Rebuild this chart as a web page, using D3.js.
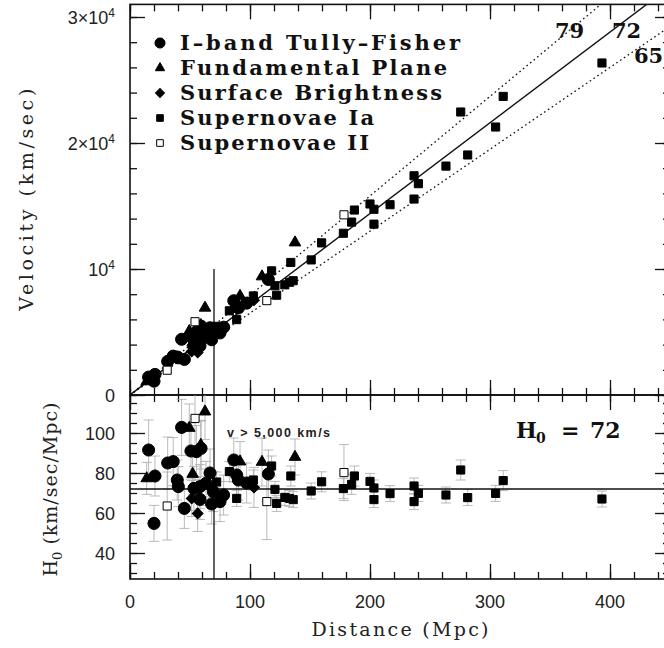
<!DOCTYPE html>
<html>
<head>
<meta charset="utf-8">
<script src="https://cdn.jsdelivr.net/npm/d3@7"></script>
<style>
  body { margin: 0; background: #fff; }
</style>
</head>
<body>
<div id="chart"></div>
<script>
// [distance (Mpc), H0 (km/s/Mpc), H0 error]
const tullyFisher = [
  [15.5, 91.5, 15], [20.8, 78.5, 10], [20.0, 54.8, 9], [31.4, 85.0, 13],
  [36.0, 85.7, 12], [39.4, 76.5, 10], [40.3, 73.2, 10], [43.0, 102.8, 14],
  [45.3, 62.3, 10], [50.8, 91.0, 14], [55.4, 90.7, 13], [59.2, 92.3, 14],
  [53.3, 72.3, 11], [58.3, 73.2, 11], [63.3, 74.8, 11], [66.7, 80.0, 12],
  [58.3, 66.8, 10], [69.4, 70.7, 10], [68.0, 64.5, 10], [75.0, 65.7, 10],
  [78.0, 69.0, 10], [86.5, 86.5, 11], [88.9, 79.0, 10], [90.3, 76.5, 10],
  [97.2, 75.0, 10], [115.3, 79.5, 12]
];
const fundamentalPlane = [
  [13.9, 77.3, 8], [49.4, 102.5, 12], [62.5, 110.7, 14], [52.2, 79.5, 10],
  [59.0, 94.0, 12], [91.7, 85.7, 10], [110.0, 85.5, 12], [137.5, 88.0, 9]
];
const surfaceBrightness = [
  [51.4, 67.3, 9], [56.4, 59.8, 9], [103.3, 72.8, 10]
];
const supernovaeIa = [
  [72.2, 75.5, 5], [82.8, 80.7, 5], [88.9, 67.3, 4], [102.8, 76.5, 5],
  [118.0, 83.5, 5], [120.8, 71.8, 4], [122.2, 64.8, 4], [129.0, 67.8, 4],
  [133.0, 67.3, 4], [136.0, 66.7, 4], [134.0, 78.5, 5], [151.0, 71.0, 4],
  [159.7, 75.6, 5], [177.8, 72.2, 5], [184.7, 74.3, 5], [187.0, 78.5, 5],
  [200.0, 75.8, 4], [203.3, 72.5, 4], [203.3, 66.7, 4], [216.7, 69.7, 4],
  [236.7, 73.5, 4], [240.3, 69.8, 4], [236.7, 65.7, 4], [263.3, 69.0, 4],
  [275.6, 81.5, 5], [281.4, 67.7, 4], [304.7, 69.8, 4], [311.0, 76.2, 5],
  [393.3, 67.0, 4]
];
const supernovaeII = [
  [31.0, 63.5, 17], [54.2, 107.3, 15], [114.0, 65.7, 19], [178.3, 80.2, 14]
];

const legendLabels = ["I–band Tully–Fisher", "Fundamental Plane", "Surface Brightness",
                      "Supernovae Ia", "Supernovae II"];
const hubbleLines = [79, 72, 65];
const bestH0 = 72;
const velocityCut = 70; // Mpc, v > 5,000 km/s

const xTicksMajor = [0, 100, 200, 300, 400];
const vTicksMajor = [0, 10000, 20000, 30000];
const hTicksMajor = [40, 60, 80, 100];

const width = 664, height = 648;
const pLeft = 130, pRight = 670, pTop = 4.4, pMid = 395, pBottom = 579;

const svg = d3.select("#chart").append("svg")
  .attr("width", width)
  .attr("height", height)
  .style("background", "#fff");

const x = d3.scaleLinear().domain([0, 450]).range([pLeft, pRight]);
const yTop = d3.scaleLinear().domain([0, 31000]).range([pMid, pTop]);
const yBot = d3.scaleLinear().domain([27, 119]).range([pBottom, pMid]);

const tickFont = "'Liberation Sans', Arial, sans-serif";
const serifFont = "'DejaVu Serif', serif";

svg.append("defs").call(d => {
  d.append("clipPath").attr("id", "clipTop").append("rect")
    .attr("x", pLeft).attr("y", pTop).attr("width", pRight - pLeft).attr("height", pMid - pTop);
  d.append("clipPath").attr("id", "clipBot").append("rect")
    .attr("x", pLeft).attr("y", pMid).attr("width", pRight - pLeft).attr("height", pBottom - pMid);
});

// ticks
function tickAxis(axisFn, scale, values, size, transform) {
  svg.append("g")
    .attr("transform", transform)
    .call(axisFn(scale).tickValues(values).tickSize(size).tickFormat(""))
    .call(g => g.select(".domain").remove())
    .call(g => g.selectAll("line").attr("stroke", "#111").attr("stroke-width", 1.3));
}
const xMinor = d3.range(0, 451, 20);
const vMinor = d3.range(0, 31000, 2000);
const hMinor = d3.range(30, 119, 5);

[[d3.axisTop, pTop], [d3.axisBottom, pMid], [d3.axisTop, pMid], [d3.axisBottom, pBottom]].forEach(([fn, yy]) => {
  tickAxis(fn, x, xMinor, -7, `translate(0,${yy})`);
  tickAxis(fn, x, xTicksMajor, -15, `translate(0,${yy})`);
});
tickAxis(d3.axisLeft, yTop, vMinor, -7, `translate(${pLeft},0)`);
tickAxis(d3.axisLeft, yTop, vTicksMajor, -15, `translate(${pLeft},0)`);
tickAxis(d3.axisRight, yTop, vMinor, -7, `translate(${pRight},0)`);
tickAxis(d3.axisRight, yTop, vTicksMajor, -15, `translate(${pRight},0)`);
tickAxis(d3.axisLeft, yBot, hMinor, -7, `translate(${pLeft},0)`);
tickAxis(d3.axisLeft, yBot, hTicksMajor, -15, `translate(${pLeft},0)`);
tickAxis(d3.axisRight, yBot, hMinor, -7, `translate(${pRight},0)`);
tickAxis(d3.axisRight, yBot, hTicksMajor, -15, `translate(${pRight},0)`);

// frames
svg.append("rect").attr("x", pLeft).attr("y", pTop).attr("width", pRight - pLeft).attr("height", pMid - pTop)
  .attr("fill", "none").attr("stroke", "#111").attr("stroke-width", 1.6);
svg.append("rect").attr("x", pLeft).attr("y", pMid).attr("width", pRight - pLeft).attr("height", pBottom - pMid)
  .attr("fill", "none").attr("stroke", "#111").attr("stroke-width", 1.6);

// tick labels
xTicksMajor.forEach(t => {
  svg.append("text").attr("x", x(t)).attr("y", 608)
    .attr("text-anchor", "middle").attr("font-family", tickFont).attr("font-size", 18)
    .attr("fill", "#222").text(t);
});
vTicksMajor.forEach(t => {
  const txt = svg.append("text").attr("x", 115).attr("y", yTop(t) + 6.5)
    .attr("text-anchor", "end").attr("font-family", tickFont).attr("font-size", 18).attr("fill", "#222");
  if (t === 0) { txt.text("0"); return; }
  const m = t / 10000;
  txt.append("tspan").text(m === 1 ? "10" : m + "×10");
  txt.append("tspan").attr("font-size", 12).attr("dy", -7).text("4");
});
hTicksMajor.forEach(t => {
  svg.append("text").attr("x", 115).attr("y", yBot(t) + 6.5)
    .attr("text-anchor", "end").attr("font-family", tickFont).attr("font-size", 18)
    .attr("fill", "#222").text(t);
});

// axis titles
svg.append("text")
  .attr("transform", `translate(33,${(pTop + pMid) / 2}) rotate(-90)`)
  .attr("text-anchor", "middle").attr("font-family", serifFont).attr("font-size", 19)
  .attr("textLength", 222).attr("lengthAdjust", "spacing")
  .attr("fill", "#222").text("Velocity (km/sec)");
const hTitle = svg.append("text")
  .attr("transform", `translate(57,${(pMid + pBottom) / 2 + 2}) rotate(-90)`)
  .attr("text-anchor", "middle").attr("font-family", serifFont).attr("font-size", 19)
  .attr("fill", "#222");
hTitle.append("tspan").text("H");
hTitle.append("tspan").attr("font-size", 13).attr("dy", 5).text("0");
hTitle.append("tspan").attr("dy", -5).attr("letter-spacing", 1).text(" (km/sec/Mpc)");
svg.append("text").attr("x", x(225)).attr("y", 636)
  .attr("text-anchor", "middle").attr("font-family", serifFont).attr("font-size", 19)
  .attr("textLength", 177).attr("lengthAdjust", "spacing")
  .attr("fill", "#222").text("Distance (Mpc)");

// Hubble lines in the upper panel
const gTop = svg.append("g").attr("clip-path", "url(#clipTop)");
const line = d3.line().x(d => x(d[0])).y(d => yTop(d[1]));
hubbleLines.forEach(h => {
  gTop.append("path")
    .attr("d", line([[0, 0], [450, 450 * h]]))
    .attr("fill", "none").attr("stroke", "#111")
    .attr("stroke-width", h === bestH0 ? 1.4 : 1.3)
    .attr("stroke-dasharray", h === bestH0 ? null : "1.6,3");
});
gTop.append("line")
  .attr("x1", x(velocityCut)).attr("x2", x(velocityCut))
  .attr("y1", yTop(0)).attr("y2", yTop(10000))
  .attr("stroke", "#111").attr("stroke-width", 1.3);

// lower panel reference lines and error bars
const gBot = svg.append("g").attr("clip-path", "url(#clipBot)");
const allSets = [
  { data: tullyFisher, type: d3.symbolCircle, size: 115, fill: "#000", rot: 0 },
  { data: fundamentalPlane, type: d3.symbolTriangle, size: 58, fill: "#000", rot: 0 },
  { data: surfaceBrightness, type: d3.symbolSquare, size: 58, fill: "#000", rot: 45 },
  { data: supernovaeIa, type: d3.symbolSquare, size: 66, fill: "#000", rot: 0 },
  { data: supernovaeII, type: d3.symbolSquare, size: 66, fill: "#fff", rot: 0 }
];

allSets.forEach(s => {
  s.data.forEach(([d, h, e]) => {
    const eb = gBot.append("g").attr("stroke", "#a8a8a8").attr("stroke-width", 0.8);
    eb.append("line").attr("x1", x(d)).attr("x2", x(d)).attr("y1", yBot(h - e)).attr("y2", yBot(h + e));
    [h - e, h + e].forEach(v => {
      eb.append("line").attr("x1", x(d) - 5).attr("x2", x(d) + 5).attr("y1", yBot(v)).attr("y2", yBot(v));
    });
  });
});

gBot.append("line")
  .attr("x1", pLeft).attr("x2", pRight).attr("y1", yBot(bestH0)).attr("y2", yBot(bestH0))
  .attr("stroke", "#111").attr("stroke-width", 1.4);
gBot.append("line")
  .attr("x1", x(velocityCut)).attr("x2", x(velocityCut)).attr("y1", pMid).attr("y2", pBottom)
  .attr("stroke", "#111").attr("stroke-width", 1.3);

// points in both panels
allSets.forEach(s => {
  const sym = d3.symbol().type(s.type).size(s.size);
  s.data.forEach(([d, h]) => {
    gTop.append("path").attr("d", sym)
      .attr("transform", `translate(${x(d)},${yTop(d * h)}) rotate(${s.rot})`)
      .attr("fill", s.fill).attr("stroke", "#000").attr("stroke-width", 1);
    gBot.append("path").attr("d", sym)
      .attr("transform", `translate(${x(d)},${yBot(h)}) rotate(${s.rot})`)
      .attr("fill", s.fill).attr("stroke", "#000").attr("stroke-width", 1);
  });
});

// legend
const legendSizes = [80, 38, 40, 44, 44];
const legendWidths = [280, 267, 262, 194, 189];
legendLabels.forEach((lab, i) => {
  const yy = 43 + i * 25;
  const s = allSets[i];
  svg.append("path").attr("d", d3.symbol().type(s.type).size(legendSizes[i]))
    .attr("transform", `translate(160,${yy}) rotate(${s.rot})`)
    .attr("fill", s.fill).attr("stroke", "#000").attr("stroke-width", 1);
  svg.append("text").attr("x", 180).attr("y", yy + 7)
    .attr("font-family", serifFont).attr("font-weight", "bold").attr("font-size", 21)
    .attr("textLength", legendWidths[i]).attr("lengthAdjust", "spacing")
    .attr("fill", "#111").text(lab);
});

// line labels
[["79", 555, 38], ["72", 612, 38], ["65", 634, 63]].forEach(([t, lx, ly]) => {
  svg.append("text").attr("x", lx).attr("y", ly)
    .attr("font-family", serifFont).attr("font-weight", "bold").attr("font-size", 21)
    .attr("fill", "#111").text(t);
});

// annotations in lower panel
svg.append("text").attr("x", 227).attr("y", 437)
  .attr("font-family", tickFont).attr("font-weight", "bold").attr("font-size", 12.5)
  .attr("textLength", 103).attr("lengthAdjust", "spacing")
  .attr("fill", "#222").text("v > 5,000 km/s");

const hLab = svg.append("text").attr("y", 438)
  .attr("font-family", serifFont).attr("font-weight", "bold").attr("font-size", 22).attr("fill", "#111");
hLab.append("tspan").attr("x", 516).text("H");
hLab.append("tspan").attr("x", 536).attr("dy", 5).attr("font-size", 14).text("0");
hLab.append("tspan").attr("x", 561).attr("dy", -5).text("=");
hLab.append("tspan").attr("x", 590).text(bestH0);
</script>
</body>
</html>
